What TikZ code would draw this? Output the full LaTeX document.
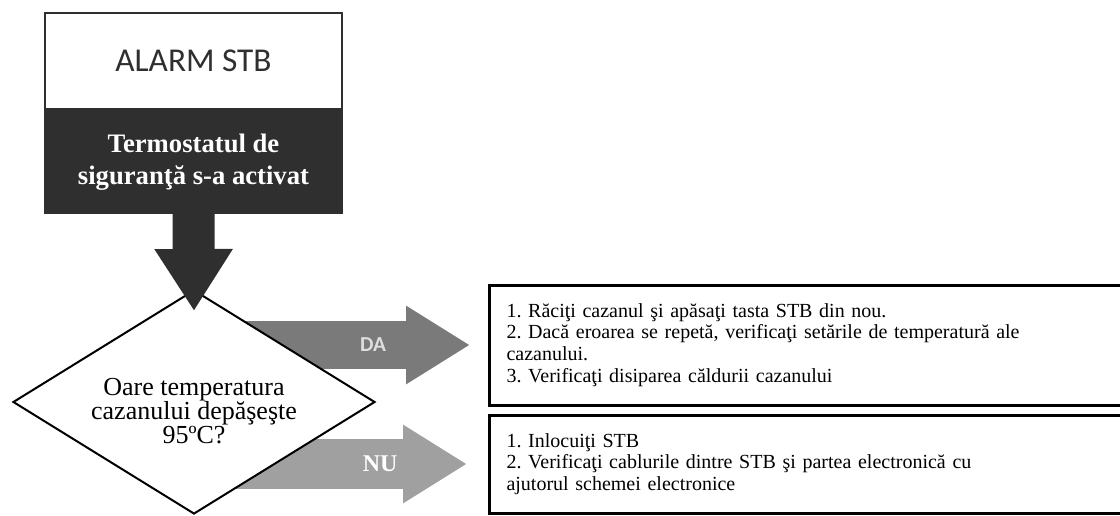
\documentclass[tikz,border=0pt]{standalone}
\usepackage{fontspec}
\setmainfont{Liberation Serif}
\newfontfamily\calibri{Carlito}
\usepackage{tikz}
\usetikzlibrary{positioning,arrows.meta,shapes.geometric,backgrounds}
\definecolor{darkfill}{HTML}{2F2F2F}
\definecolor{dagray}{HTML}{7A7A7A}
\definecolor{nugray}{HTML}{A0A0A0}
\frenchspacing
\tikzset{
title/.style={draw=darkfill, line width=1.5pt, minimum width=222.75pt, minimum height=72pt,
text=darkfill, font=\calibri\fontsize{25}{29}\selectfont},
alert/.style={draw=darkfill, fill=darkfill, line width=1.5pt, minimum width=222.75pt,
minimum height=76.5pt, align=center, text=white, font=\bfseries\fontsize{20}{24}\selectfont},
decision/.style={diamond, draw, line width=1.5pt, fill=white, minimum width=271.5pt,
minimum height=168pt, inner sep=0pt},
steps/.style={draw, line width=2.25pt, anchor=west, inner xsep=12.75pt, text width=456pt,
align=left, font=\fontsize{15}{16.3}\selectfont},
block/.style={-{Triangle[length=48pt, width=55.5pt]}, line width=36pt}
}

\begin{document}
\begin{tikzpicture}[x=0.75pt, y=-0.75pt]
\useasboundingbox (0,0) rectangle (1120,515);
\clip (0,0) rectangle (1120,515);
\node[title, anchor=north](alarm) at (193.5,12){ALARM STB};
\node[alert, below=0pt of alarm](activ){Termostatul de\\siguranţă s-a activat};
\node[decision](q) at (194,402){};
\node[align=center, font=\fontsize{19.5}{18}\selectfont](qtext) at (194,411)
{Oare temperatura\\cazanului depăşeşte\\95ºC?};
\node[steps, minimum height=90pt](da) at (488,345)
{1. Răciţi cazanul şi apăsaţi tasta STB din nou.\\
2. Dacă eroarea se repetă, verificaţi setările de temperatură ale\\
cazanului.\\
3. Verificaţi disiparea căldurii cazanului};
\node[steps, minimum height=73.5pt](nu) at (488,464)
{1. Inlocuiţi STB\\
2. Verificaţi cablurile dintre STB şi partea electronică cu\\
ajutorul schemei electronice};
\begin{scope}[on background layer]
\draw[block, dagray, shorten >=13.5pt] (q.center |- da.west) -- node[pos=0.609, text=white!87!black,
font=\calibri\bfseries\fontsize{16}{18}\selectfont]{DA} (da.west);
\draw[block, nugray, line width=37.5pt, shorten >=15.75pt] (q.center |- nu.west) -- node[pos=0.633,
text=white, font=\bfseries\fontsize{18}{20}\selectfont]{NU} (nu.west);
\end{scope}
\draw[-{Triangle[length=46.5pt, width=55.5pt]}, line width=31.5pt, darkfill]
(activ.south) -- ([yshift=-16.5pt]q.north);
\end{tikzpicture}
\end{document}
